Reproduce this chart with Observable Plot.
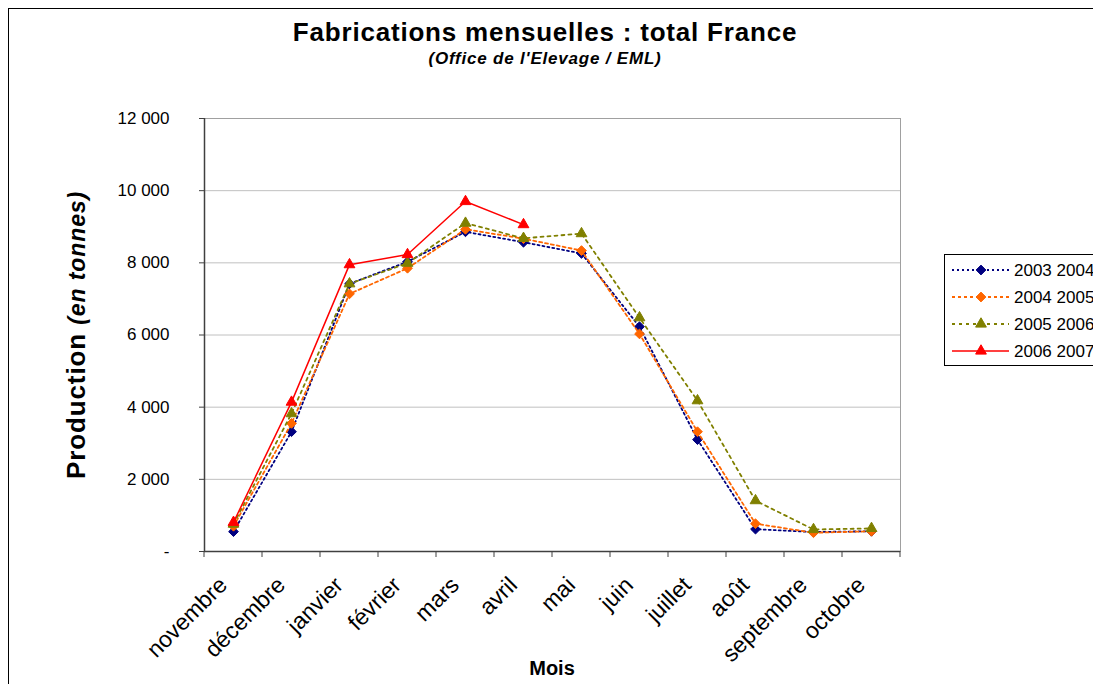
<!DOCTYPE html>
<html>
<head>
<meta charset="utf-8">
<script src="https://cdn.jsdelivr.net/npm/d3@7"></script>
<script src="https://cdn.jsdelivr.net/npm/@observablehq/plot@0.6"></script>
<style>
  html, body { margin: 0; padding: 0; background: #fff; overflow: hidden; }
  #wrap { position: relative; width: 1093px; height: 684px; font-family: "Liberation Sans", Arial, sans-serif; color: #000; }
  #frame { position: absolute; left: 8px; top: 8px; width: 1100px; height: 700px; border: 1px solid #000; box-sizing: border-box; }
  .lbl { position: absolute; white-space: nowrap; transform: translate(-50%, -50%); }
  #title { left: 545px; top: 32px; font-size: 26px; font-weight: bold; letter-spacing: 0.8px; }
  #subtitle { left: 545px; top: 59px; font-size: 17px; font-weight: bold; font-style: italic; letter-spacing: 0.8px; }
  #ylab { left: 76px; top: 335px; transform: translate(-50%, -50%) rotate(-90deg); font-size: 26px; font-weight: bold; letter-spacing: 0.9px; }
  #ylab i { font-size: 23px; }
  #xlab { left: 552px; top: 668px; font-size: 20px; font-weight: bold; }
  #legend { position: absolute; left: 944px; top: 254px; width: 200px; height: 112px; border: 1px solid #000; box-sizing: border-box; background: #fff; }
  #chart { position: absolute; left: 0; top: 0; }
</style>
</head>
<body>
<div id="wrap">
  <div id="frame"></div>
  <div id="chart"></div>
  <div id="title" class="lbl">Fabrications mensuelles : total France</div>
  <div id="subtitle" class="lbl">(Office de l'Elevage / EML)</div>
  <div id="ylab" class="lbl">Production <i>(en tonnes)</i></div>
  <div id="xlab" class="lbl">Mois</div>
  <div id="legend"></div>
</div>
<script>
const months = ["novembre","décembre","janvier","février","mars","avril","mai","juin","juillet","août","septembre","octobre"];
const seriesNames = ["2003 2004","2004 2005","2005 2006","2006 2007"];
const v2003 = [550, 3320, 7420, 8030, 8860, 8570, 8260, 6230, 3100, 620, 540, 560];
const v2004 = [700, 3550, 7140, 7850, 8930, 8670, 8340, 6030, 3320, 770, 520, 560];
const v2005 = [760, 3820, 7420, 7990, 9100, 8680, 8810, 6480, 4180, 1410, 610, 640];
const v2006 = [810, 4140, 7950, 8230, 9700, 9060];
const yTicks = [0, 2000, 4000, 6000, 8000, 10000, 12000];

const styles = [
  {color: "#000080", dash: "2,3", symbol: "diamond2", r: 4.4, solid: false},
  {color: "#FF6600", dash: "3,3", symbol: "diamond2", r: 4.4, solid: false},
  {color: "#808000", dash: "3,4", symbol: "triangle", r: 4.0, solid: false},
  {color: "#FF0000", dash: null, symbol: "triangle", r: 4.0, solid: true}
];
const allValues = [v2003, v2004, v2005, v2006];
const data = allValues.map((vals, i) => vals.map((v, j) => ({month: months[j], value: v, series: seriesNames[i]})));

const fmt = d => d === 0 ? "-" : d3.format(",")(d).replace(/,/g, " ");

function boundaryTicks(index, scales, values, dims) {
  const g = d3.create("svg:g");
  const x = scales.x;
  const step = x(months[1]) - x(months[0]);
  const y0 = dims.height - dims.marginBottom;
  const xs = months.map(m => x(m) - step / 2).concat([x(months[months.length - 1]) + step / 2]);
  for (const xx of xs) {
    g.append("line").attr("x1", xx).attr("x2", xx).attr("y1", y0).attr("y2", y0 + 6)
      .attr("stroke", "#404040").attr("stroke-width", 1);
  }
  return g.node();
}

const marks = [
  Plot.ruleY(yTicks.filter(d => d > 0), {stroke: "#c0c0c0", strokeWidth: 1}),
  Plot.frame({stroke: "#a0a0a0", strokeWidth: 1}),
  Plot.ruleY([0], {stroke: "#404040", strokeWidth: 1.5}),
  Plot.ruleX([months[0]], {dx: -29, stroke: "#404040", strokeWidth: 1.5}),
  boundaryTicks,
  Plot.axisY({ticks: yTicks, tickFormat: fmt, tickSize: 5, tickPadding: 30, fontSize: 17, stroke: "#404040", label: null}),
  Plot.text(months, {x: d => d, frameAnchor: "bottom", dx: -5, dy: 35, rotate: -45, textAnchor: "end", fontSize: 23, fill: "#000"})
];
data.forEach((d, i) => {
  const s = styles[i];
  marks.push(Plot.line(d, {x: "month", y: "value", stroke: s.color, strokeWidth: s.solid ? 1.5 : 1.8, strokeDasharray: s.dash}));
  marks.push(Plot.dot(d, {x: "month", y: "value", symbol: s.symbol, r: s.r, fill: s.color, stroke: s.color, strokeWidth: 1}));
});

const chart = Plot.plot({
  width: 1093,
  height: 684,
  marginLeft: 204,
  marginRight: 193,
  marginTop: 118,
  marginBottom: 133,
  style: {background: "transparent", fontFamily: "Liberation Sans, Arial, sans-serif", color: "#000", overflow: "visible"},
  x: {type: "point", domain: months, padding: 0.5, axis: null},
  y: {domain: [0, 12000], axis: null},
  marks
});
document.getElementById("chart").appendChild(chart);

// Legend
const leg = d3.select("#legend").append("svg").attr("width", 200).attr("height", 110);
seriesNames.forEach((name, i) => {
  const s = styles[i];
  const yy = 15 + i * 27;
  leg.append("line").attr("x1", 7).attr("x2", 64).attr("y1", yy).attr("y2", yy)
    .attr("stroke", s.color).attr("stroke-width", s.solid ? 1.5 : 1.8)
    .attr("stroke-dasharray", s.dash);
  const sym = s.symbol === "triangle" ? d3.symbolTriangle : d3.symbolDiamond2;
  leg.append("path").attr("transform", `translate(36,${yy})`)
    .attr("d", d3.symbol(sym, Math.PI * s.r * s.r)())
    .attr("fill", s.color).attr("stroke", s.color);
  leg.append("text").attr("x", 69).attr("y", yy).attr("dy", "0.35em")
    .attr("font-size", 17).attr("font-family", "Liberation Sans, Arial, sans-serif").text(name);
});
</script>
</body>
</html>
